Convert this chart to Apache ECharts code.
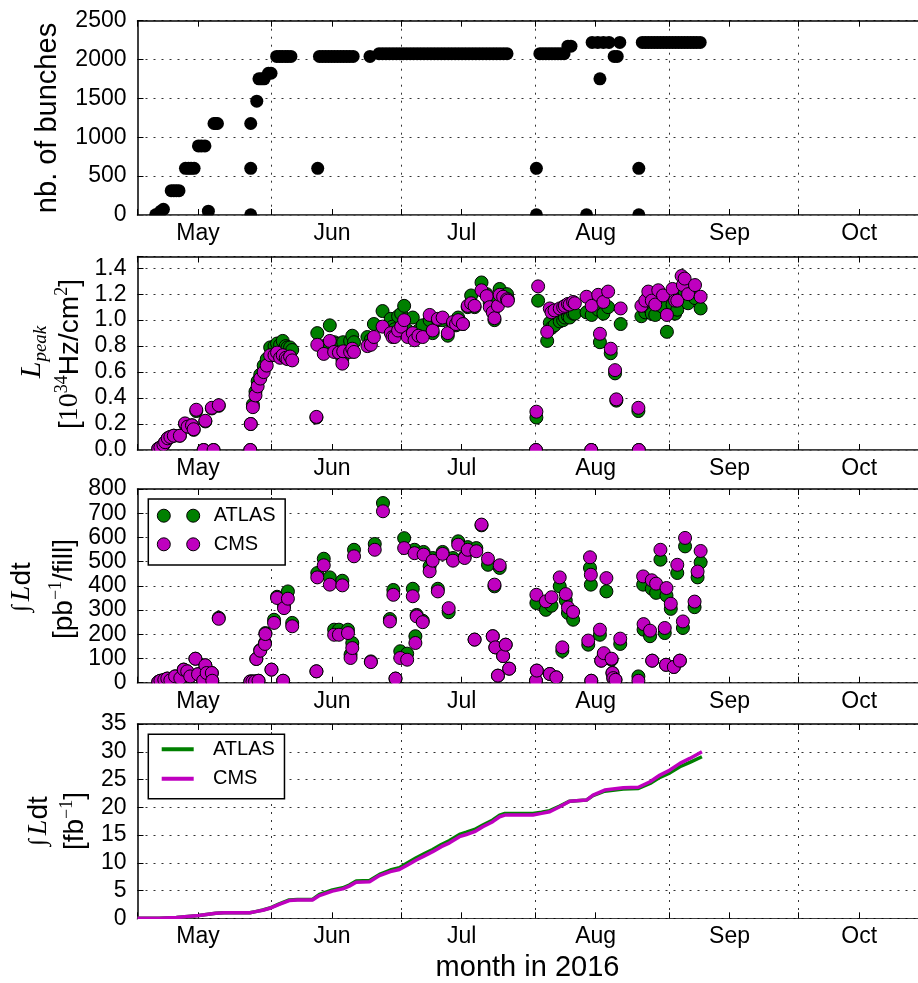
<!DOCTYPE html>
<html><head><meta charset="utf-8">
<script src="https://cdn.jsdelivr.net/npm/echarts@6/dist/echarts.min.js"></script>
<style>html,body{margin:0;padding:0;background:#fff}#c{width:918px;height:983px}</style>
</head><body><div id="c"></div>
<script>
// x values are day-of-year 2016 (1 Jan = 0, 1 May = 121)
const monthLabels = ['May','Jun','Jul','Aug','Sep','Oct'];
const monthMidDays = [135,166,196,227,258,288];
const monthStartDays = [152,182,213,244,274];
const tickDays = [121,135,152,166,182,196,213,227,244,258,274,288];

// panel 1: number of bunches per fill
const bunchDays = [125.2,125.8,126.4,127.0,128.8,129.4,130.0,130.6,132.1,132.8,133.4,134.1,135.1,135.8,136.6,137.4,
  138.7,139.1,139.5,147.2,147.2,147.2,148.6,149.1,149.7,150.3,151.3,151.9,
  153.2,153.9,154.5,155.2,155.8,156.5,162.7,
  163.1,163.8,164.5,165.2,165.9,166.6,167.3,168.0,168.7,169.4,170.1,170.9,174.8,
  176.9,177.7,178.5,179.3,180.1,180.9,181.7,182.5,183.3,184.1,184.9,185.7,186.5,187.3,188.1,188.9,189.7,190.5,191.3,
  192.1,192.9,193.7,194.5,195.3,196.1,196.9,197.7,198.5,199.3,200.1,200.9,201.7,202.5,203.3,204.1,204.9,205.7,206.5,
  213.3,213.3,214.1,214.8,215.5,216.2,216.9,217.6,218.3,219.0,219.7,220.6,221.3,224.9,
  226.2,227.5,228.8,230.1,232.6,231.3,232.0,228.0,237.0,237.0,
  237.8,238.5,239.2,239.9,240.6,241.3,242.0,242.7,243.4,244.1,244.8,245.5,246.2,246.9,247.6,248.3,249.0,249.7,250.4,251.2];
const bunchCounts = [3,12,49,74,313,313,313,313,601,601,601,601,889,889,889,49,
  1177,1177,1177,3,601,1177,1465,1752,1752,1752,1824,1824,
  2040,2040,2040,2040,2040,2040,601,
  2040,2040,2040,2040,2040,2040,2040,2040,2040,2040,2040,2040,2040,
  2076,2076,2076,2076,2076,2076,2076,2076,2076,2076,2076,2076,2076,2076,2076,2076,2076,2076,2076,
  2076,2076,2076,2076,2076,2076,2076,2076,2076,2076,2076,2076,2076,2076,2076,2076,2076,2076,2076,
  3,601,2076,2076,2076,2076,2076,2076,2076,2076,2076,2172,2172,3,
  2220,2220,2220,2220,2220,2040,2040,1752,3,601,
  2220,2220,2220,2220,2220,2220,2220,2220,2220,2220,2220,2220,2220,2220,2220,2220,2220,2220,2220,2220];

// panel 2: peak luminosity [1e34 Hz/cm2]
const lumiDays = [125.8,126.3,127.0,127.4,128.0,128.6,129.4,130.8,132.0,132.6,133.6,134.0,134.6,136.3,136.7,138.2,138.6,139.8,
  147.1,147.2,147.7,148.3,148.8,149.4,150.2,150.9,151.7,152.7,153.3,154.0,154.6,155.3,155.7,156.3,156.8,
  162.4,162.6,164.1,165.5,166.5,167.6,168.4,168.6,170.2,170.7,171.1,
  174.2,175.0,175.7,177.7,179.6,180.0,180.5,181.3,182.0,182.7,183.5,184.7,185.1,186.0,187.0,188.6,189.3,190.5,191.6,
  192.8,194.0,194.7,195.2,196.3,197.4,198.2,199.0,200.6,201.8,202.5,203.2,203.6,204.4,204.8,205.6,206.5,206.7,
  213.2,213.3,213.7,215.8,216.4,216.8,217.5,218.7,219.5,219.9,220.6,221.0,221.8,222.2,224.9,226.0,226.1,227.6,228.0,
  228.8,229.9,230.5,231.5,231.8,232.8,236.9,237.0,
  237.6,238.5,239.2,240.0,240.8,241.5,242.6,243.5,244.8,245.4,245.9,246.9,247.2,247.6,248.4,250.0,251.3];
const lumiAtlas = [0.01,0.02,0.04,0.06,0.09,0.10,0.11,0.11,0.20,0.18,0.19,0.155,0.30,0,0.22,0.32,0,0.34,
  0,0.20,0.35,0.45,0.53,0.58,0.65,0.70,0.79,0.80,0.82,0.81,0.84,0.80,0.79,0.79,0.77,
  0.25,0.90,0.80,0.96,0.83,0.82,0.70,0.83,0.84,0.88,0.83,
  0.87,0.85,0.97,1.07,1.01,0.95,0.93,1.03,1.05,1.11,0.92,1.02,0.88,0.92,0.96,1.00,0.90,1.00,1.00,
  0.88,0.97,0.96,1.02,0.97,1.10,1.19,1.10,1.29,1.20,1.13,1.08,1.00,1.14,1.24,1.19,1.20,1.16,
  0,0.25,1.15,0.84,0.98,0.94,0.96,0.99,1.00,1.02,1.03,1.02,1.05,1.05,1.06,0,1.04,1.08,0.83,
  1.05,1.10,0.745,0.59,0.38,0.97,0.30,0,
  1.03,1.06,1.10,1.05,1.04,1.12,1.10,0.91,1.12,1.05,1.08,1.24,1.17,1.22,1.13,1.17,1.09];
const lumiCms = [0.01,0.02,0.04,0.06,0.09,0.10,0.11,0.11,0.205,0.18,0.19,0.16,0.31,0,0.225,0.325,0,0.345,
  0,0.20,0.33,0.42,0.49,0.55,0.60,0.65,0.73,0.73,0.75,0.71,0.73,0.71,0.70,0.72,0.69,
  0.255,0.81,0.74,0.84,0.755,0.75,0.665,0.76,0.755,0.78,0.755,
  0.80,0.81,0.87,0.95,0.90,0.87,0.87,0.92,0.95,1.00,0.87,0.90,0.845,0.88,0.87,1.04,0.92,1.01,1.02,
  0.90,0.985,0.97,1.00,0.97,1.11,1.13,1.11,1.23,1.185,1.10,1.06,1.015,1.11,1.195,1.18,1.16,1.15,
  0,0.295,1.26,0.91,1.09,1.06,1.075,1.09,1.10,1.11,1.125,1.12,1.14,1.13,1.18,0,1.11,1.195,0.895,
  1.14,1.22,0.78,0.615,0.39,1.09,0.325,0,
  1.11,1.15,1.22,1.15,1.12,1.23,1.19,1.04,1.24,1.15,1.15,1.34,1.27,1.32,1.20,1.27,1.18];

// panel 3: integrated luminosity per fill [pb^-1]
const fillDays = [125.8,126.3,127.2,127.9,128.6,129.7,130.9,131.7,132.5,133.2,134.4,135.0,136.2,136.7,137.0,138.2,138.3,139.8,
  147.1,147.6,148.2,148.5,149.0,149.4,150.5,150.6,152.0,152.6,153.3,154.7,154.9,155.8,156.8,
  162.4,162.6,164.1,165.5,166.5,167.6,168.4,169.7,170.3,170.7,171.1,175.0,175.9,177.8,179.4,180.2,180.7,181.8,182.7,
  183.4,184.7,185.1,185.3,185.6,187.0,187.2,188.6,189.3,190.5,191.6,193.0,194.0,195.2,196.7,197.4,199.0,199.4,200.6,
  202.1,203.2,203.6,203.8,204.4,204.8,205.6,206.2,207.0,
  213.2,213.3,213.4,215.5,216.4,216.8,217.9,218.7,219.3,220.1,220.6,221.8,225.3,225.7,225.9,226.0,228.0,228.3,228.9,
  229.5,230.7,230.9,231.1,231.6,232.7,236.9,
  238.0,238.1,239.6,240.0,240.1,241.0,242.0,243.0,243.3,243.4,244.4,245.1,245.9,246.5,247.2,247.7,249.9,250.6,251.3];
const fillAtlas = [3,8,12,17,10,26,19,54,47,26,99,35,8,72,40,40,8,268,
  5,5,5,98,8,135,165,205,54,260,355,8,320,377,247,
  47,453,512,435,219,219,421,219,116,164,549,88,573,742,263,383,17,130,597,
  120,388,549,192,280,256,540,481,515,388,540,291,515,584,520,560,178,556,650,
  487,192,398,146,29,474,110,157,58,
  8,329,50,301,36,318,22,398,131,340,288,260,157,474,405,8,198,91,115,
  377,95,40,19,12,160,26,
  405,219,192,388,91,371,508,205,74,360,305,65,453,91,226,563,312,435,497];
const fillCms = [3,8,12,17,10,26,19,54,47,26,99,35,8,72,40,40,8,264,
  5,5,5,98,8,132,160,201,54,247,350,8,308,347,233,
  47,435,485,405,198,198,402,205,102,143,522,85,549,708,253,363,17,102,556,
  95,357,535,164,274,250,529,460,504,377,532,308,504,570,515,549,178,543,653,
  512,192,405,146,29,485,110,157,58,
  8,363,50,336,36,353,22,435,146,366,311,292,174,518,446,8,219,91,122,
  432,99,40,19,12,182,8,
  439,242,215,423,91,409,549,226,74,391,326,65,487,91,253,598,335,459,544];

// panel 4: cumulative integrated luminosity [fb^-1]
const cumDays = [121,126,130,135.2,139.1,141,147,148.3,150,151.6,153.8,156.1,158,161.5,163.1,166.1,168.5,170,171.6,174.7,
  177,179.5,181.6,183.5,185.5,187.5,189.3,191.3,193.2,195.5,197.1,199,200.9,203.2,204.8,206,212.5,214.5,216.4,218.7,
  221,224.9,226.4,229.1,233.4,236.9,239.6,241.9,244.2,246.5,248.8,251.6];
const cumCms = [0,0.02,0.15,0.5,0.9,1.0,1.0,1.2,1.45,1.8,2.5,3.2,3.3,3.3,4.1,4.9,5.3,5.8,6.5,6.6,
  7.7,8.4,8.8,9.6,10.5,11.3,12.0,12.9,13.6,14.7,15.1,15.6,16.5,17.4,18.3,18.6,18.6,18.9,19.2,20.1,
  21.1,21.3,22.2,23.1,23.5,23.6,24.6,25.8,26.7,27.9,28.8,30.0];
const cumAtlas = [0,0.02,0.15,0.5,0.9,1.0,1.0,1.2,1.5,1.85,2.6,3.3,3.4,3.4,4.3,5.1,5.5,6.0,6.7,6.8,
  7.9,8.7,9.1,10.0,10.9,11.7,12.4,13.3,14.0,15.1,15.5,16.0,16.8,17.7,18.6,18.9,18.9,19.1,19.4,20.2,
  21.1,21.3,22.1,22.9,23.3,23.4,24.3,25.4,26.2,27.3,28.1,29.1];

const FONT = 'Liberation Sans';
const SERIF = 'Liberation Serif';
const GREEN = '#008000';
const MAGENTA = '#bf00bf';
const X_MIN = 121, X_MAX = 301.6;
const grids = [
  {left:137.5, right:0, top:20.7, height:194.3},
  {left:137.5, right:0, top:256.5, height:193.5},
  {left:137.5, right:0, top:489, height:193.7},
  {left:137.5, right:0, top:724, height:194.3}
];
const zip = (xs, ys) => xs.map((x, i) => [x, ys[i]]);
const dotted = {color:'#333', width:1, type:[2,6]};

const xAxis = [], yAxis = [];
grids.forEach((g, i) => {
  xAxis.push({
    type:'value', gridIndex:i, position:'bottom', min:X_MIN, max:X_MAX,
    axisLine:{show:true, onZero:false, lineStyle:{color:'#000', width:1.5}},
    axisTick:{show:true, inside:true, length:6, lineStyle:{color:'#000', width:1}, customValues:tickDays},
    axisLabel:{show:true, customValues:monthMidDays, margin:7, fontSize:23, color:'#000', fontFamily:FONT,
      formatter: v => { const k = monthMidDays.indexOf(v); return k >= 0 ? monthLabels[k] : ''; }},
    splitLine:{show:false}
  });
  xAxis.push({
    type:'value', gridIndex:i, position:'top', min:X_MIN, max:X_MAX,
    axisLine:{show:true, onZero:false, lineStyle:{color:'#000', width:1.5}},
    axisTick:{show:true, inside:true, length:6, lineStyle:{color:'#000', width:1}, customValues:tickDays},
    axisLabel:{show:false}, splitLine:{show:false}
  });
  xAxis.push({
    type:'value', gridIndex:i, position:'bottom', min:X_MIN, max:X_MAX,
    axisLine:{show:false, onZero:false},
    axisTick:{show:false, customValues:monthStartDays},
    axisLabel:{show:false},
    splitLine:{show:true, lineStyle:dotted}
  });
});
const yCfg = [
  {min:0, max:2500, interval:500, fmt: v => String(v)},
  {min:0, max:1.49, interval:0.2, fmt: v => { const k = Math.round(v/0.2); return Math.abs(v - k*0.2) < 1e-6 ? (k*0.2).toFixed(1) : ''; }},
  {min:0, max:800, interval:100, fmt: v => String(v)},
  {min:0, max:35, interval:5, fmt: v => String(v)}
];
yCfg.forEach((c, i) => {
  yAxis.push({
    type:'value', gridIndex:i, position:'left', min:c.min, max:c.max, interval:c.interval,
    axisLine:{show:true, onZero:false, lineStyle:{color:'#000', width:1.5}},
    axisTick:{show:true, inside:true, length:6, lineStyle:{color:'#000', width:1}},
    axisLabel:{margin:11, fontSize:23, color:'#000', fontFamily:FONT, formatter:c.fmt, showMaxLabel:true},
    splitLine:{show:true, lineStyle:dotted}
  });
});

const dot = (color) => ({color:color, borderColor:'#000', borderWidth:1, opacity:1});
const series = [
  {type:'scatter', name:'bunches', xAxisIndex:0, yAxisIndex:0, data:zip(bunchDays, bunchCounts),
    symbol:'circle', symbolSize:13, itemStyle:{color:'#000', opacity:1}},
  {type:'scatter', name:'ATLAS', xAxisIndex:3, yAxisIndex:1, data:zip(lumiDays, lumiAtlas),
    symbol:'circle', symbolSize:13, itemStyle:dot(GREEN)},
  {type:'scatter', name:'CMS', xAxisIndex:3, yAxisIndex:1, data:zip(lumiDays, lumiCms),
    symbol:'circle', symbolSize:13, itemStyle:dot(MAGENTA)},
  {type:'scatter', name:'ATLAS', xAxisIndex:6, yAxisIndex:2, data:zip(fillDays, fillAtlas),
    symbol:'circle', symbolSize:13, itemStyle:dot(GREEN)},
  {type:'scatter', name:'CMS', xAxisIndex:6, yAxisIndex:2, data:zip(fillDays, fillCms),
    symbol:'circle', symbolSize:13, itemStyle:dot(MAGENTA)},
  {type:'line', name:'ATLAS', xAxisIndex:9, yAxisIndex:3, data:zip(cumDays, cumAtlas),
    showSymbol:false, lineStyle:{color:GREEN, width:3.5, opacity:1}, itemStyle:{color:GREEN}},
  {type:'line', name:'CMS', xAxisIndex:9, yAxisIndex:3, data:zip(cumDays, cumCms),
    showSymbol:false, lineStyle:{color:MAGENTA, width:3.5, opacity:1}, itemStyle:{color:MAGENTA}}
];

const TWO_DOTS = 'path://M0,6.5a6.5,6.5 0 1,0 13,0a6.5,6.5 0 1,0 -13,0ZM29.4,6.5a6.5,6.5 0 1,0 13,0a6.5,6.5 0 1,0 -13,0Z';
const BAR = 'path://M0,0H32V4H0Z';
const legendText = {fontSize:20, fontFamily:FONT, color:'#000', lineHeight:20};
const legend = [
  {orient:'vertical', left:148.3, top:499, itemWidth:42.4, itemHeight:13, itemGap:8.6,
    padding:[6.7,9.6,10.7,8.5], borderColor:'#000', borderWidth:1.5, backgroundColor:'#fff',
    selectedMode:false, symbolKeepAspect:false,
    textStyle:Object.assign({padding:[0,0,0,9]}, legendText),
    data:[{name:'ATLAS', icon:TWO_DOTS, itemStyle:dot(GREEN)}, {name:'CMS', icon:TWO_DOTS, itemStyle:dot(MAGENTA)}]},
  {orient:'vertical', left:148.3, top:734.3, itemWidth:32, itemHeight:4, itemGap:9.4,
    padding:[5,9.6,10,13.4], borderColor:'#000', borderWidth:1.5, backgroundColor:'#fff',
    selectedMode:false, symbolKeepAspect:false,
    textStyle:Object.assign({padding:[0,0,0,14.3]}, legendText),
    data:[{name:'ATLAS', icon:BAR, itemStyle:{color:GREEN, borderWidth:0, opacity:1}}, {name:'CMS', icon:BAR, itemStyle:{color:MAGENTA, borderWidth:0, opacity:1}}]}
];

const main = {fontSize:28, fontFamily:FONT, lineHeight:34, fill:'#000'};
const sup = {fontSize:18, fontFamily:SERIF, lineHeight:18, verticalAlign:'top'};
const rich = {
  b: main,
  m: {fontSize:28, fontFamily:SERIF, lineHeight:34},
  sup: sup,
  L: {fontSize:30, fontFamily:SERIF, fontStyle:'italic', lineHeight:36},
  sub: {fontSize:19, fontFamily:SERIF, fontStyle:'italic', lineHeight:19, verticalAlign:'bottom'},
  i: {fontSize:24, fontFamily:SERIF, lineHeight:34, padding:[0,4,0,0]},
  Li: {fontSize:28, fontFamily:SERIF, fontStyle:'italic', lineHeight:34}
};
const vText = (x, y, text, extra) => ({type:'text', x:x, y:y, rotation:Math.PI/2, silent:true, z:10,
  style:Object.assign({text:text, align:'center', verticalAlign:'middle', fill:'#000', fontFamily:FONT, fontSize:28, rich:rich}, extra || {})});
const maskRects = grids.map(g => ({type:'rect', silent:true, z:50,
  shape:{x:g.left, y:g.top + g.height + 0.8, width:918 - g.left, height:6.5}, style:{fill:'#fff'}}));

const graphic = [
  vText(48, 118, 'nb. of bunches', {fontSize:29}),
  vText(32, 352, '{L|L}{sub|peak}'),
  vText(70, 354, '{b|[}{m|10}{sup|34}{b|Hz/cm}{sup|2}{b|]}'),
  vText(22, 587, '{i|∫}{Li|L}{b|dt}'),
  vText(64.5, 589, '{b|[pb}{sup|−1}{b|/fill]}'),
  vText(39, 821, '{i|∫}{Li|L}{b|dt}'),
  vText(75.5, 821, '{b|[fb}{sup|−1}{b|]}'),
  {type:'text', x:527.5, y:968, silent:true, style:{text:'month in 2016', align:'center', verticalAlign:'middle', fill:'#000', fontFamily:FONT, fontSize:29}}
].concat(maskRects);

const chart = echarts.init(document.getElementById('c'), null, {renderer:'canvas'});
chart.setOption({
  animation:false, backgroundColor:'#fff',
  textStyle:{fontFamily:FONT},
  grid:grids, xAxis:xAxis, yAxis:yAxis, series:series, legend:legend, graphic:graphic
});
</script></body></html>
